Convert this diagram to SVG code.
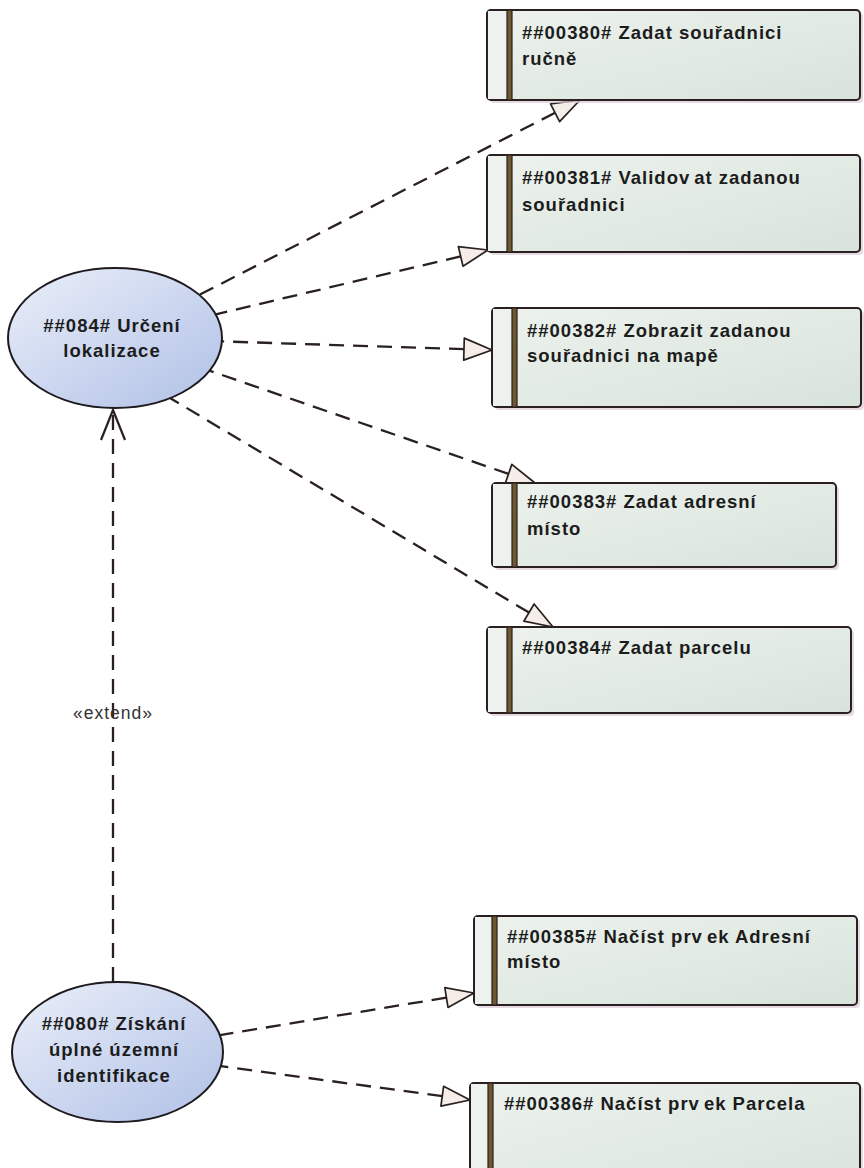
<svg xmlns="http://www.w3.org/2000/svg" width="864" height="1168" viewBox="0 0 864 1168">
<defs>
<linearGradient id="boxg" x1="0" y1="0" x2="1" y2="1">
<stop offset="0" stop-color="#edf2ed"/>
<stop offset="1" stop-color="#d8e3dc"/>
</linearGradient>
<linearGradient id="ellg" x1="0" y1="0" x2="1" y2="1">
<stop offset="0" stop-color="#eaeff9"/>
<stop offset="1" stop-color="#b0c0e6"/>
</linearGradient>
<style>
.shadow{fill:#dccbd6;opacity:.7}
.box{fill:url(#boxg);stroke:#2b2020;stroke-width:2}
.strip{fill:#eef2ee}
.bar{fill:#6e5834;stroke:#2b2018;stroke-width:1.2}
.lbl{font-family:"Liberation Sans",Arial,sans-serif;font-weight:bold;font-size:18.5px;letter-spacing:1px;fill:#1c1c1c}
.ell{fill:url(#ellg);stroke:#1e1a1e;stroke-width:2}
.dash{fill:none;stroke:#2a2020;stroke-width:2.3;stroke-dasharray:15 9}
.head{fill:#f5ede8;stroke:#2a2020;stroke-width:1.7;stroke-linejoin:round}
.open{fill:none;stroke:#2a2020;stroke-width:2.2}
.ext{font-family:"Liberation Sans",Arial,sans-serif;font-size:17.5px;letter-spacing:1px;fill:#333}
</style>
</defs>

<g id="connectors">
<path class="dash" d="M555.1,112.8 L199.3,294.9"/>
<polygon class="head" points="580,100 559.6,121.7 550.5,103.9"/>
<path class="dash" d="M460.7,256.4 L215.7,314.3"/>
<polygon class="head" points="488,250 463,266.2 458.4,246.7"/>
<path class="dash" d="M464,349.1 L221.9,341.4"/>
<polygon class="head" points="492,350 463.7,360.1 464.3,338.1"/>
<path class="dash" d="M508.5,473.9 L209.6,370.7"/>
<polygon class="head" points="535,483 505.3,483.3 511.8,464.4"/>
<path class="dash" d="M529,612.6 L170,398"/>
<polygon class="head" points="553,627 523.8,621.2 534.1,604"/>
<path class="dash" d="M446.4,997.6 L219.9,1035.1"/>
<polygon class="head" points="474,993 448,1007.4 444.8,987.7"/>
<path class="dash" d="M442.3,1096.2 L220.9,1066.1"/>
<polygon class="head" points="470,1100 440.9,1106.1 443.6,1086.3"/>
<path class="dash" d="M113,982 L113,410"/>
<polyline class="open" points="101,440 113,410 125,440"/>
<text class="ext" x="113" y="719" text-anchor="middle">«extend»</text>
</g>

<g id="uc084">
<ellipse class="ell" cx="115" cy="338" rx="107" ry="70"/>
<text class="lbl" x="112" y="332" text-anchor="middle">##084# Určení</text>
<text class="lbl" x="112" y="357" text-anchor="middle">lokalizace</text>
</g>

<g id="uc080">
<ellipse class="ell" cx="117.5" cy="1052" rx="105.5" ry="70"/>
<text class="lbl" x="114" y="1030" text-anchor="middle">##080# Získání</text>
<text class="lbl" x="114" y="1056" text-anchor="middle">úplné územní</text>
<text class="lbl" x="114" y="1082" text-anchor="middle">identifikace</text>
</g>

<g id="uc00380">
<rect class="shadow" x="490" y="13" width="373" height="90" rx="4"/>
<rect class="box" x="487" y="10" width="373" height="90" rx="4"/>
<rect class="strip" x="488" y="11" width="19" height="88"/>
<rect class="bar" x="507" y="10" width="5" height="90"/>
<text class="lbl" x="522" y="39">##00380# Zadat souřadnici</text>
<text class="lbl" x="522" y="65">ručně</text>
</g>

<g id="uc00381">
<rect class="shadow" x="490" y="158" width="373" height="97" rx="4"/>
<rect class="box" x="487" y="155" width="373" height="97" rx="4"/>
<rect class="strip" x="488" y="156" width="19" height="95"/>
<rect class="bar" x="507" y="155" width="5" height="97"/>
<text class="lbl" x="522" y="184">##00381# Validov<tspan dx="4">at zadanou</tspan></text>
<text class="lbl" x="522" y="211">souřadnici</text>
</g>

<g id="uc00382">
<rect class="shadow" x="495" y="311" width="369" height="99" rx="4"/>
<rect class="box" x="492" y="308" width="369" height="99" rx="4"/>
<rect class="strip" x="493" y="309" width="19" height="97"/>
<rect class="bar" x="512" y="308" width="5" height="99"/>
<text class="lbl" x="527" y="337">##00382# Zobrazit zadanou</text>
<text class="lbl" x="527" y="362">souřadnici na mapě</text>
</g>

<g id="uc00383">
<rect class="shadow" x="495" y="486" width="344" height="84" rx="4"/>
<rect class="box" x="492" y="483" width="344" height="84" rx="4"/>
<rect class="strip" x="493" y="484" width="19" height="82"/>
<rect class="bar" x="512" y="483" width="5" height="84"/>
<text class="lbl" x="527" y="508">##00383# Zadat adresní</text>
<text class="lbl" x="527" y="535">místo</text>
</g>

<g id="uc00384">
<rect class="shadow" x="490" y="630" width="364" height="86" rx="4"/>
<rect class="box" x="487" y="627" width="364" height="86" rx="4"/>
<rect class="strip" x="488" y="628" width="19" height="84"/>
<rect class="bar" x="507" y="627" width="5" height="86"/>
<text class="lbl" x="522" y="654">##00384# Zadat parcelu</text>
</g>

<g id="uc00385">
<rect class="shadow" x="477" y="919" width="383" height="89" rx="4"/>
<rect class="box" x="474" y="916" width="383" height="89" rx="4"/>
<rect class="strip" x="475" y="917" width="17" height="87"/>
<rect class="bar" x="492" y="916" width="5" height="89"/>
<text class="lbl" x="507" y="943">##00385# Načíst prv<tspan dx="4">ek Adresní</tspan></text>
<text class="lbl" x="507" y="968">místo</text>
</g>

<g id="uc00386">
<rect class="shadow" x="473" y="1086" width="390" height="110" rx="4"/>
<rect class="box" x="470" y="1083" width="390" height="110" rx="4"/>
<rect class="strip" x="471" y="1084" width="17" height="108"/>
<rect class="bar" x="488" y="1083" width="5" height="110"/>
<text class="lbl" x="504" y="1110">##00386# Načíst prv<tspan dx="4">ek Parcela</tspan></text>
</g>
</svg>
